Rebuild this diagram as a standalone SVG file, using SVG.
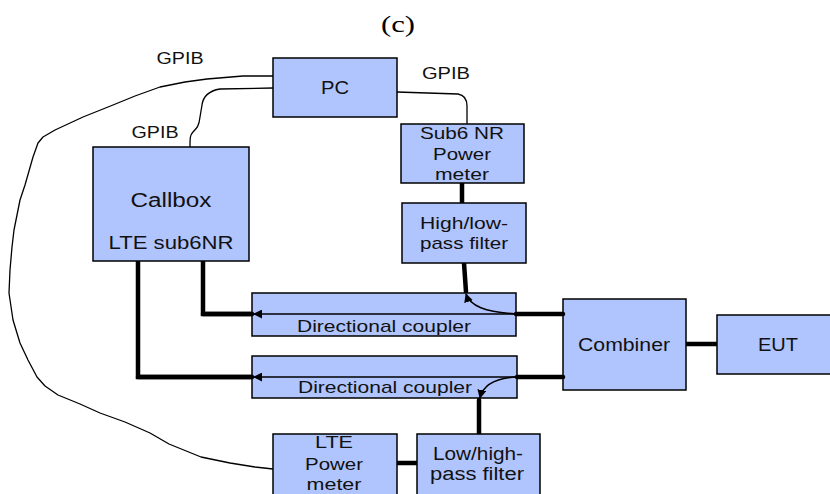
<svg xmlns="http://www.w3.org/2000/svg" width="830" height="494" viewBox="0 0 830 494">
<style>
.box{fill:#b0c4fe;stroke:#000;stroke-width:1.5}
.t{font-family:"Liberation Sans",Arial,sans-serif;font-size:18px;fill:#111;text-anchor:middle}
.big{font-size:20px}
.lbl{font-size:16px}
.dc{font-size:17px}
.sm{font-size:17px}
.thick{fill:none;stroke:#000;stroke-width:4.5;stroke-linecap:round;stroke-linejoin:miter}
.thin{fill:none;stroke:#000;stroke-width:1.5}
.wire{fill:none;stroke:#000;stroke-width:1.3;stroke-linejoin:round}
</style>
<defs>
<marker id="ah" viewBox="0 0 10 10" refX="9" refY="5" markerWidth="9" markerHeight="9" markerUnits="userSpaceOnUse" orient="auto">
<path d="M0,0 L10,5 L0,10 z" fill="#000"/>
</marker>
</defs>
<rect width="830" height="494" fill="#fff"/>
<text x="398" y="32" style="font-family:'Liberation Serif','Times New Roman',serif;font-size:24px;fill:#000" text-anchor="middle" textLength="34" lengthAdjust="spacingAndGlyphs">(c)</text>

<g id="connectors">
<path class="wire" d="M273,76 L243,76 L207,79 L185,82 L160,87 L135,96 L113,105 L83,117 L55,130 L43,137 L38,143 L33,157 L25,185 L20,200 L14,230 L12,247 L10,270 L9,293 L13,320 L20,343 L28,360 L37,377 L45,386 L58,395 L80,404 L100,413 L125,422 L150,433 L169,444 L201,457 L230,463 L255,467 L273,469"/>
<path class="wire" d="M273,88 L220,89 C208,91 203,97 202,105 L200,117 C199,126 197,128 193,132 C190,135 190,138 190,147"/>
<path class="wire" d="M397,92 L458,94 C464,95 467,99 467,106 L467,124"/>
<path class="thick" d="M462,183 L462,203"/>
<path class="thick" d="M464,263 L466,292"/>
<path class="thick" d="M203,260 L203,314 L252,314"/>
<path class="thick" d="M138,260 L138,377 L252,377"/>
<path class="thick" d="M686,344 L717,344"/>
<path class="thick" d="M479,400 L479,434"/>
<path class="thick" d="M397,463 L417,463"/>
</g>

<text class="t lbl" x="180" y="64" textLength="47" lengthAdjust="spacingAndGlyphs">GPIB</text>
<text class="t lbl" x="155" y="138" textLength="47" lengthAdjust="spacingAndGlyphs">GPIB</text>
<text class="t lbl" x="446" y="79" textLength="48" lengthAdjust="spacingAndGlyphs">GPIB</text>

<g id="pc">
<rect class="box" x="273" y="58" width="124" height="59"/>
<text class="t" x="335" y="94" textLength="28" lengthAdjust="spacingAndGlyphs">PC</text>
</g>
<g id="callbox">
<rect class="box" x="93" y="147" width="156" height="114"/>
<text class="t big" x="171" y="207" textLength="81" lengthAdjust="spacingAndGlyphs">Callbox</text>
<text class="t" x="171" y="249" textLength="125" lengthAdjust="spacingAndGlyphs">LTE sub6NR</text>
</g>
<g id="sub6-power-meter">
<rect class="box" x="401" y="124" width="123" height="59"/>
<text class="t sm" x="462" y="139" textLength="84" lengthAdjust="spacingAndGlyphs">Sub6 NR</text>
<text class="t sm" x="462" y="160" textLength="58" lengthAdjust="spacingAndGlyphs">Power</text>
<text class="t sm" x="462" y="180" textLength="54" lengthAdjust="spacingAndGlyphs">meter</text>
</g>
<g id="high-low-filter">
<rect class="box" x="402" y="203" width="124" height="60"/>
<text class="t sm" x="464" y="229" textLength="88" lengthAdjust="spacingAndGlyphs">High/low-</text>
<text class="t sm" x="464" y="249" textLength="88" lengthAdjust="spacingAndGlyphs">pass filter</text>
</g>
<g id="coupler1">
<rect class="box" x="252" y="293" width="264" height="43"/>
<path class="thin" d="M516,314 L254,314" marker-end="url(#ah)"/>
<text class="t dc" x="384" y="332" textLength="174" lengthAdjust="spacingAndGlyphs">Directional coupler</text>
</g>
<g id="coupler2">
<rect class="box" x="252" y="356" width="265" height="42"/>
<path class="thin" d="M517,377 L254,377" marker-end="url(#ah)"/>
<text class="t dc" x="385" y="393" textLength="174" lengthAdjust="spacingAndGlyphs">Directional coupler</text>
</g>
<g id="combiner">
<rect class="box" x="563" y="299" width="123" height="91"/>
<text class="t" x="624" y="351" textLength="92" lengthAdjust="spacingAndGlyphs">Combiner</text>
</g>
<g id="eut">
<rect class="box" x="717" y="315" width="116" height="59"/>
<text class="t" x="778" y="351" textLength="40" lengthAdjust="spacingAndGlyphs">EUT</text>
</g>
<g id="lte-power-meter">
<rect class="box" x="273" y="434" width="124" height="62"/>
<text class="t sm" x="334" y="448" textLength="38" lengthAdjust="spacingAndGlyphs">LTE</text>
<text class="t sm" x="334" y="470" textLength="58" lengthAdjust="spacingAndGlyphs">Power</text>
<text class="t sm" x="334" y="490" textLength="55" lengthAdjust="spacingAndGlyphs">meter</text>
</g>
<g id="low-high-filter">
<rect class="box" x="417" y="434" width="123" height="62"/>
<text class="t" x="478" y="460" textLength="90" lengthAdjust="spacingAndGlyphs">Low/high-</text>
<text class="t" x="477" y="480" textLength="94" lengthAdjust="spacingAndGlyphs">pass filter</text>
</g>
<g id="coupler-connectors">
<path class="thin" d="M516,314 C485,312 470,306 466,294" marker-end="url(#ah)"/>
<path class="thin" d="M517,377 C495,378 483,385 480,398" marker-end="url(#ah)"/>
<path class="thick" d="M516,314 L563,314"/>
<path class="thick" d="M517,377 L563,377"/>
<path class="thick" d="M252,314 L203,314"/>
<path class="thick" d="M252,377 L138,377"/>
</g>
</svg>
